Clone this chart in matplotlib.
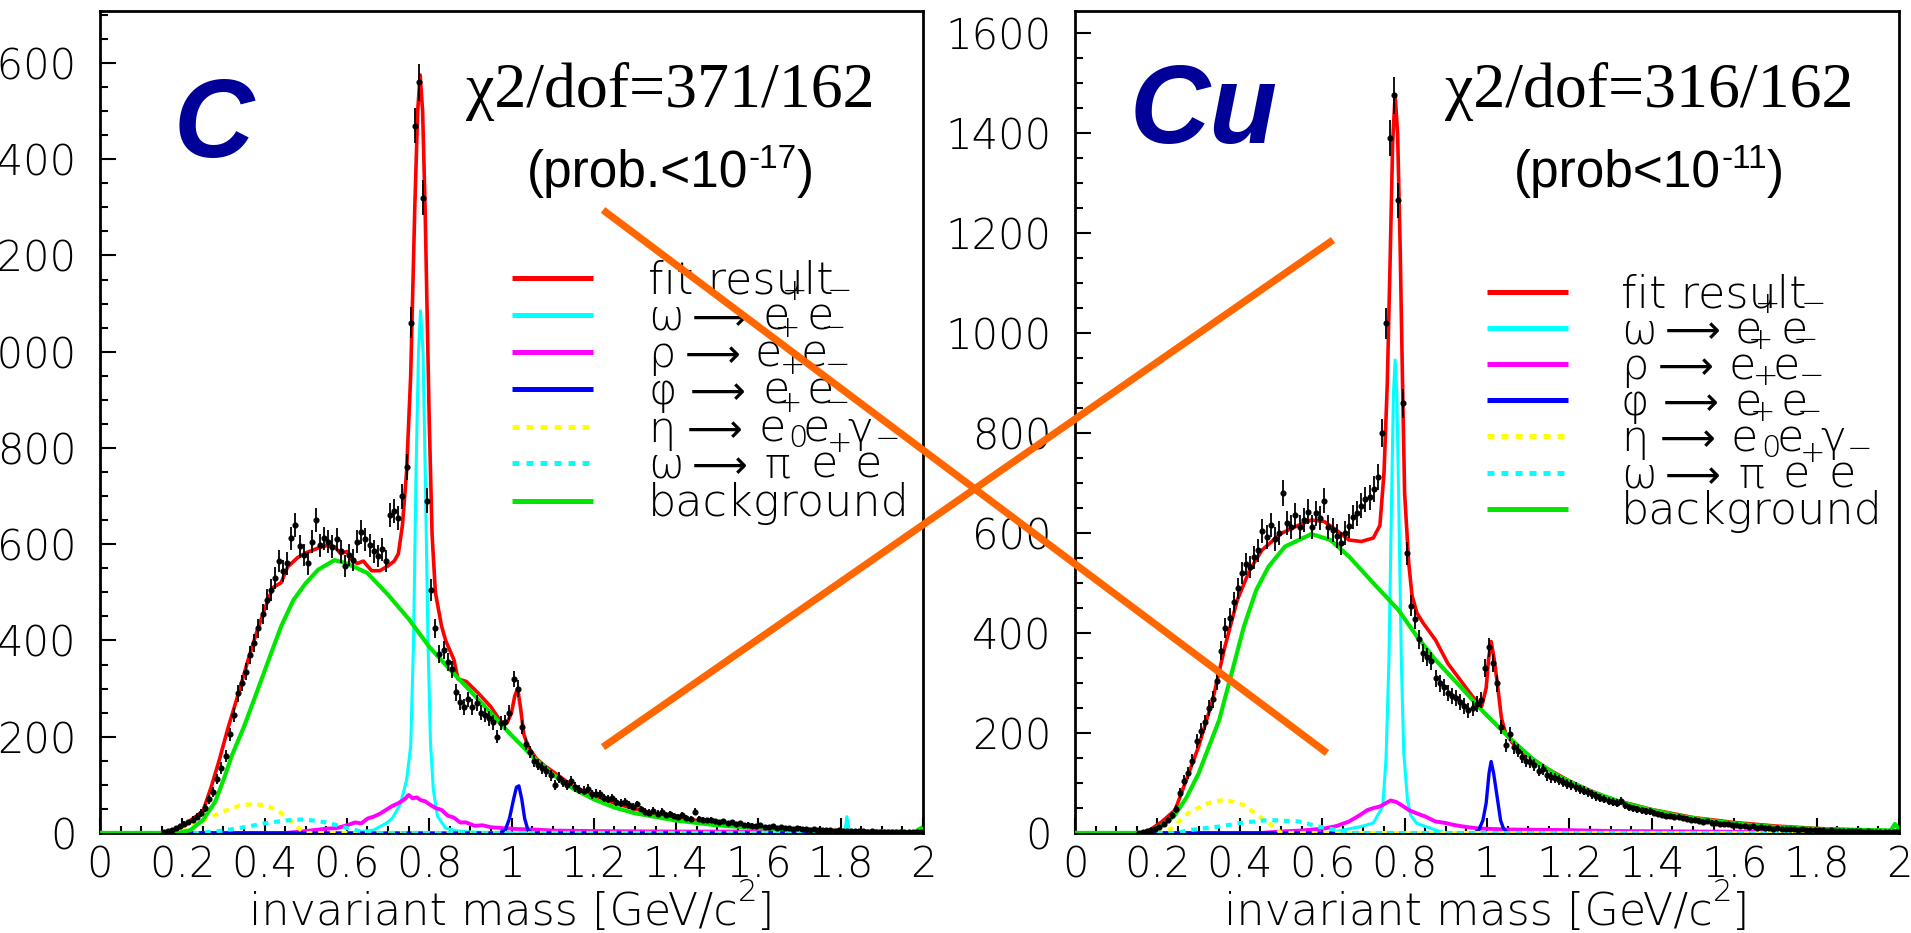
import numpy as np
import matplotlib
matplotlib.use("Agg")
import matplotlib.pyplot as plt
from matplotlib.lines import Line2D
from matplotlib.ticker import MultipleLocator, FuncFormatter

W, H, DPI = 1911, 933, 100

# ---------------------------------------------------------------- data
# e+e- invariant-mass spectra, 10 MeV bins (bin centres 0.155 ... 1.995 GeV)
bin_centres = np.round(np.arange(0.155, 2.0, 0.01), 3)

c_counts = [
    2, 4, 6, 10, 14, 18, 22, 28, 34, 42,
    52, 70, 85, 112, 135, 160, 205, 245, 290, 312,
    335, 370, 395, 425, 455, 485, 505, 530, 565, 545,
    560, 612, 640, 596, 578, 560, 605, 650, 598, 612,
    605, 595, 610, 585, 555, 578, 568, 605, 625, 610,
    598, 585, 575, 590, 565, 660, 670, 655, 700, 760,
    1060, 1470, 1560, 1320, 690, 505, 425, 372, 380, 355,
    340, 292, 272, 262, 278, 262, 270, 250, 245, 238,
    230, 200, 228, 230, 250, 320, 300, 220, 185, 168,
    150, 142, 135, 128, 120, 100, 115, 105, 100, 108,
    95, 90, 88, 92, 80, 82, 80, 72, 70, 72,
    64, 62, 65, 58, 55, 60, 50, 44, 42, 46,
    40, 44, 38, 40, 36, 34, 38, 32, 30, 44,
    30, 28, 26, 28, 24, 22, 25, 20, 22, 18,
    20, 16, 17, 15, 14, 16, 13, 12, 14, 11,
    12, 10, 11, 9, 10, 8, 9, 7, 8, 7,
    6, 7, 6, 5, 6, 5, 5, 4, 5, 4,
    4, 3, 4, 3, 3, 3, 3, 2, 3, 2,
    2, 2, 2, 2, 2,
]
c_errors = [
    3, 3, 4, 5, 5, 6, 6, 7, 7, 8,
    8, 9, 10, 11, 12, 13, 14, 15, 17, 17,
    18, 19, 19, 20, 21, 21, 22, 22, 23, 23,
    23, 24, 25, 24, 23, 23, 24, 25, 24, 24,
    24, 24, 24, 24, 23, 23, 23, 24, 25, 24,
    24, 24, 23, 24, 23, 25, 25, 25, 26, 27,
    32, 37, 38, 36, 26, 22, 20, 19, 19, 18,
    18, 17, 16, 16, 16, 16, 16, 15, 15, 15,
    15, 14, 15, 15, 15, 17, 17, 14, 13, 13,
    12, 12, 12, 11, 11, 10, 11, 10, 10, 10,
    10, 9, 9, 9, 9, 9, 9, 8, 8, 8,
    8, 8, 8, 8, 7, 7, 7, 7, 7, 7,
    7, 7, 6, 6, 6, 6, 6, 6, 6, 7,
    6, 6, 5, 6, 5, 5, 5, 5, 5, 5,
    5, 5, 5, 5, 4, 4, 4, 4, 4, 4,
    4, 4, 4, 4, 4, 4, 4, 4, 4, 4,
    3, 3, 3, 3, 3, 3, 3, 3, 3, 3,
    3, 3, 3, 3, 3, 3, 3, 3, 3, 3,
    3, 3, 3, 3, 3,
]

cu_counts = [
    1, 2, 4, 6, 8, 12, 18, 26, 36, 48,
    80, 105, 120, 145, 185, 205, 222, 250, 268, 305,
    365, 410, 430, 462, 490, 520, 538, 532, 552, 566,
    605, 592, 616, 588, 600, 680, 620, 612, 636, 612,
    626, 643, 612, 640, 630, 665, 612, 606, 594, 580,
    600, 615, 632, 640, 655, 668, 672, 688, 712, 800,
    1020, 1390, 1476, 1266, 860, 560, 455, 428, 388, 360,
    352, 345, 310, 300, 292, 280, 275, 270, 262, 255,
    246, 250, 258, 266, 330, 372, 340, 300, 212, 176,
    198, 172, 165, 152, 145, 142, 136, 125, 128, 116,
    112, 110, 106, 102, 98, 96, 92, 88, 85, 82,
    78, 74, 70, 68, 65, 62, 60, 64, 56, 52,
    50, 48, 46, 44, 44, 41, 39, 37, 35, 35,
    32, 33, 30, 29, 27, 27, 25, 23, 24, 21,
    21, 19, 18, 18, 16, 16, 15, 15, 13, 14,
    11, 12, 10, 11, 9, 10, 9, 8, 9, 8,
    7, 8, 7, 6, 7, 6, 6, 5, 6, 5,
    5, 4, 5, 4, 4, 4, 3, 4, 3, 3,
    3, 2, 3, 2, 2,
]
cu_errors = [
    2, 2, 3, 3, 4, 4, 5, 6, 7, 8,
    10, 11, 12, 13, 14, 15, 15, 16, 17, 18,
    19, 20, 20, 21, 21, 22, 22, 22, 23, 23,
    24, 24, 24, 24, 24, 26, 24, 24, 25, 24,
    24, 25, 24, 25, 24, 25, 24, 24, 24, 23,
    24, 24, 24, 25, 25, 25, 25, 26, 26, 28,
    31, 36, 37, 35, 29, 23, 21, 20, 19, 18,
    18, 18, 17, 17, 17, 16, 16, 16, 16, 16,
    15, 15, 16, 16, 18, 19, 18, 17, 14, 13,
    14, 13, 13, 12, 12, 12, 12, 11, 11, 11,
    11, 10, 10, 10, 10, 10, 10, 9, 9, 9,
    9, 9, 8, 8, 8, 8, 8, 8, 7, 7,
    7, 7, 7, 7, 7, 6, 6, 6, 6, 6,
    6, 6, 5, 5, 5, 5, 5, 5, 5, 5,
    5, 4, 4, 4, 4, 4, 4, 4, 4, 4,
    4, 4, 3, 3, 3, 3, 3, 3, 3, 3,
    3, 3, 3, 3, 3, 3, 3, 3, 3, 3,
    3, 3, 3, 3, 3, 3, 3, 3, 3, 3,
    2, 2, 2, 2, 2,
]

# ---- fitted components, carbon target
c_fit_x = [0.0, 0.17, 0.18, 0.21, 0.25, 0.27, 0.29, 0.31, 0.34, 0.36, 0.38, 0.40, 0.42,
           0.44, 0.456, 0.48, 0.50, 0.53, 0.55, 0.57, 0.585, 0.60, 0.61, 0.625, 0.64,
           0.66, 0.68, 0.70, 0.715, 0.725, 0.735, 0.745, 0.755, 0.765, 0.772, 0.778,
           0.784, 0.79, 0.80, 0.807, 0.815, 0.83, 0.84, 0.86, 0.87, 0.89, 0.92, 0.95,
           0.975, 0.99, 1.0, 1.008, 1.015, 1.022, 1.03, 1.04, 1.06, 1.08, 1.10, 1.15,
           1.20, 1.25, 1.30, 1.35, 1.40, 1.50, 1.60, 1.70, 1.80, 1.90, 2.0]
c_fit_y = [0, 0, 3, 20, 45, 95, 152, 215, 300, 360, 415, 465, 510,
           520, 553, 572, 582, 592, 597, 595, 580, 585, 570, 560, 565,
           545, 545, 555, 565, 580, 640, 750, 950, 1300, 1500, 1575,
           1500, 1300, 860, 620, 500, 430, 400, 360, 320, 315, 290, 262,
           230, 230, 250, 285, 300, 260, 205, 180, 155, 140, 128, 97,
           78, 62, 50, 40, 32, 20, 12, 8, 5, 3, 2]

c_bg_x = [0.0, 0.19, 0.22, 0.25, 0.28, 0.30, 0.32, 0.35, 0.38, 0.41, 0.44, 0.47, 0.50,
          0.53, 0.57, 0.60, 0.65, 0.70, 0.75, 0.80, 0.85, 0.90, 0.95, 1.0, 1.05, 1.10,
          1.15, 1.20, 1.25, 1.30, 1.40, 1.50, 1.60, 1.70, 1.80, 1.90, 1.98, 1.995]
c_bg_y = [0, 0, 6, 27, 65, 110, 160, 221, 290, 360, 429, 484, 519,
          547, 567, 560, 540, 495, 445, 387, 340, 295, 249, 203, 160, 122,
          92, 70, 53, 41, 26, 16, 10, 7, 4, 3, 2, 10]

c_omega_x = [0.0, 0.60, 0.665, 0.695, 0.71, 0.73, 0.745, 0.755, 0.762, 0.768, 0.774,
             0.779, 0.785, 0.791, 0.797, 0.803, 0.81, 0.82, 0.84, 0.87, 0.90, 1.0,
             1.80, 1.81, 1.815, 1.82, 1.83, 2.0]
c_omega_y = [0, 0, 6, 20, 30, 60, 110, 180, 400, 750, 1000,
             1085, 1000, 720, 400, 190, 90, 35, 10, 4, 2, 0,
             0, 0, 34, 8, 0, 0]

c_rho_x = [0.0, 0.45, 0.50, 0.55, 0.575, 0.60, 0.62, 0.635, 0.65, 0.665, 0.68, 0.695,
           0.71, 0.725, 0.74, 0.75, 0.76, 0.77, 0.78, 0.79, 0.80, 0.815, 0.83, 0.845,
           0.86, 0.875, 0.89, 0.91, 0.93, 0.95, 0.98, 1.02, 1.06, 1.10, 1.20, 1.40,
           1.60, 1.80, 2.0]
c_rho_y = [0, 0, 4, 9, 10, 16, 22, 20, 30, 34, 40, 48,
           56, 62, 70, 79, 72, 74, 68, 66, 60, 52, 48, 36,
           32, 22, 22, 15, 16, 12, 10, 8, 7, 5, 4, 3,
           3, 2, 2]

c_phi_x = [0.0, 0.97, 0.985, 0.995, 1.005, 1.012, 1.018, 1.025, 1.032, 1.04, 1.05, 2.0]
c_phi_y = [0, 0, 6, 30, 70, 95, 98, 70, 30, 6, 0, 0]

c_eta_x = [0.0, 0.19, 0.22, 0.26, 0.30, 0.34, 0.37, 0.40, 0.43, 0.46, 0.49, 0.50, 2.0]
c_eta_y = [0, 0, 12, 30, 45, 57, 60, 58, 48, 28, 5, 0, 0]

c_omdal_x = [0.0, 0.24, 0.30, 0.35, 0.40, 0.45, 0.49, 0.53, 0.56, 0.60, 0.65, 2.0]
c_omdal_y = [0, 0, 5, 12, 20, 26, 28, 25, 20, 10, 0, 0]

# ---- fitted components, copper target
cu_fit_x = [0.0, 0.17, 0.176, 0.21, 0.243, 0.27, 0.30, 0.334, 0.364, 0.394, 0.424,
            0.454, 0.50, 0.544, 0.574, 0.605, 0.634, 0.665, 0.695, 0.724, 0.74, 0.75,
            0.758, 0.765, 0.771, 0.777, 0.783, 0.789, 0.795, 0.80, 0.81, 0.818, 0.83,
            0.845, 0.875, 0.905, 0.935, 0.965, 0.987, 0.998, 1.004, 1.01, 1.017, 1.025,
            1.035, 1.045, 1.062, 1.09, 1.115, 1.15, 1.20, 1.25, 1.30, 1.40, 1.50, 1.60,
            1.70, 1.80, 1.90, 2.0]
cu_fit_y = [0, 0, 3, 22, 46, 106, 173, 266, 373, 466, 526,
            566, 599, 616, 626, 623, 606, 586, 583, 590, 615, 720,
            900, 1150, 1380, 1476, 1400, 1180, 900, 680, 540, 475, 440,
            420, 386, 339, 306, 273, 253, 290, 350, 383, 350, 300,
            230, 200, 180, 160, 146, 127, 104, 85, 68, 47, 31, 21,
            14, 9, 6, 4]

cu_bg_x = [0.0, 0.17, 0.18, 0.21, 0.24, 0.27, 0.30, 0.35, 0.38, 0.41, 0.44, 0.47, 0.51,
           0.574, 0.62, 0.665, 0.725, 0.785, 0.83, 0.875, 0.935, 0.995, 1.055, 1.115,
           1.175, 1.25, 1.325, 1.40, 1.475, 1.55, 1.626, 1.70, 1.776, 1.85, 1.927,
           1.98, 1.99, 2.0]
cu_bg_y = [0, 0, 3, 15, 33, 70, 119, 226, 319, 413, 486, 533, 573,
           598, 586, 553, 499, 446, 393, 346, 293, 239, 190, 145,
           113, 84, 62, 46, 33, 24, 17, 12, 9, 7, 6,
           5, 18, 8]

cu_omega_x = [0.0, 0.62, 0.65, 0.695, 0.724, 0.747, 0.755, 0.762, 0.768, 0.773, 0.777,
              0.781, 0.786, 0.792, 0.798, 0.807, 0.815, 0.83, 0.875, 0.90, 2.0]
cu_omega_y = [0, 0, 6, 13, 20, 53, 150, 346, 650, 880, 946,
              880, 650, 346, 160, 66, 35, 19, 6, 0, 0]

cu_rho_x = [0.0, 0.45, 0.50, 0.55, 0.605, 0.635, 0.665, 0.69, 0.71, 0.725, 0.74, 0.755,
            0.766, 0.78, 0.792, 0.81, 0.83, 0.85, 0.875, 0.90, 0.92, 0.95, 0.98, 1.05,
            1.175, 1.30, 1.50, 1.70, 2.0]
cu_rho_y = [0, 0, 3, 5, 9, 14, 23, 35, 46, 50, 53, 60,
            65, 62, 56, 46, 39, 33, 23, 20, 16, 12, 9, 7,
            6, 4, 3, 2, 2]

cu_phi_x = [0.0, 0.97, 0.98, 0.99, 0.998, 1.005, 1.01, 1.016, 1.025, 1.033, 1.04, 1.05, 2.0]
cu_phi_y = [0, 0, 6, 25, 60, 120, 143, 120, 70, 25, 9, 0, 0]

cu_eta_x = [0.0, 0.20, 0.23, 0.273, 0.32, 0.364, 0.41, 0.454, 0.49, 0.50, 2.0]
cu_eta_y = [0, 0, 6, 39, 59, 67, 56, 29, 8, 0, 0]

cu_omdal_x = [0.0, 0.25, 0.27, 0.35, 0.41, 0.47, 0.544, 0.59, 0.634, 0.66, 2.0]
cu_omdal_y = [0, 0, 5, 13, 21, 26, 23, 13, 6, 0, 0]

targets = ["C", "Cu"]
chi2_texts = ["χ2/dof=371/162", "χ2/dof=316/162"]
prob_texts = [("(prob.<10", "-17"), ("(prob<10", "-11")]

# ---------------------------------------------------------------- styling
plt.rcParams["font.family"] = ["DejaVu Sans"]
plt.rcParams["font.weight"] = 200

RED, CYAN, MAG, BLUE, YEL, GRN = "#ff0000", "#00ffff", "#ff00ff", "#0000ff", "#ffff00", "#00e600"
DOT = (0, (1.4, 1.4))

COMPONENT_STYLE = [
    dict(color=RED, lw=2.6, ls="-"),
    dict(color=CYAN, lw=2.2, ls="-"),
    dict(color=MAG, lw=2.8, ls="-"),
    dict(color=BLUE, lw=2.4, ls="-"),
    dict(color=YEL, lw=3.0, ls=DOT),
    dict(color=CYAN, lw=3.0, ls=DOT),
    dict(color=GRN, lw=3.0, ls="-"),
]


def fx(px):
    return px / W


def fy(py):
    return 1.0 - py / H


fig = plt.figure(figsize=(W / DPI, H / DPI), dpi=DPI)
fig.patch.set_facecolor("white")

ax_c = fig.add_axes([fx(100), fy(833), 823 / W, 822 / H])
ax_cu = fig.add_axes([fx(1075), fy(833), 824 / W, 822 / H])


def style_axes(ax, ymax):
    ax.set_xlim(0, 2)
    ax.set_ylim(0, ymax)
    ax.xaxis.set_major_locator(MultipleLocator(0.2))
    ax.xaxis.set_minor_locator(MultipleLocator(0.05))
    ax.yaxis.set_major_locator(MultipleLocator(200))
    ax.yaxis.set_minor_locator(MultipleLocator(50))
    ax.xaxis.set_major_formatter(FuncFormatter(lambda v, p: f"{v:g}"))
    ax.tick_params(which="both", direction="in", top=False, right=False,
                   width=1.5, labelsize=30)
    ax.tick_params(axis="y", which="major", length=11.5, pad=17)
    ax.tick_params(axis="y", which="minor", length=5.8)
    ax.tick_params(axis="x", which="major", length=11, pad=8)
    ax.tick_params(axis="x", which="minor", length=5)
    for s in ax.spines.values():
        s.set_linewidth(2.0)


def draw_panel(ax, counts, errors, comps):
    # fit components drawn over the frame line, data points on top of everything
    for (x, y), st in zip(comps, COMPONENT_STYLE):
        ax.plot(x, y, color=st["color"], lw=st["lw"], ls=st["ls"], zorder=3,
                solid_joinstyle="round")
    ax.errorbar(bin_centres, counts, yerr=errors, fmt="o", ms=3.4, color="black",
                ecolor="black", elinewidth=1.3, capsize=0, zorder=5)


draw_panel(ax_c, c_counts, c_errors,
           [(c_fit_x, c_fit_y), (c_omega_x, c_omega_y), (c_rho_x, c_rho_y),
            (c_phi_x, c_phi_y), (c_eta_x, c_eta_y), (c_omdal_x, c_omdal_y),
            (c_bg_x, c_bg_y)])
draw_panel(ax_cu, cu_counts, cu_errors,
           [(cu_fit_x, cu_fit_y), (cu_omega_x, cu_omega_y), (cu_rho_x, cu_rho_y),
            (cu_phi_x, cu_phi_y), (cu_eta_x, cu_eta_y), (cu_omdal_x, cu_omdal_y),
            (cu_bg_x, cu_bg_y)])
style_axes(ax_c, 1708)
style_axes(ax_cu, 1644)

renderer = fig.canvas.get_renderer()


def centred_run(pieces, cx, base):
    """Place text pieces side by side, centred on cx, on a common baseline."""
    texts = []
    for s, kw, rise in pieces:
        texts.append(fig.text(0, fy(base - rise), s, ha="left", va="baseline", **kw))
    widths = [t.get_window_extent(renderer).width for t in texts]
    x = cx - sum(widths) / 2
    for t, w in zip(texts, widths):
        t.set_x(fx(x))
        x += w


LIGHT = dict(family="DejaVu Sans", weight=200)
SANS = dict(family="Liberation Sans", weight="normal")

for ax, name, chi, (p_main, p_sup), cx, (tx, ty) in [
    (ax_c, targets[0], chi2_texts[0], prob_texts[0], 670, (214, 157)),
    (ax_cu, targets[1], chi2_texts[1], prob_texts[1], 1649, (1204, 143)),
]:
    fig.text(fx(tx), fy(ty), name, family="Liberation Sans", weight="bold",
             style="italic", size=80, color="#000099", ha="center", va="baseline")
    fig.text(fx(cx), fy(107), chi, family="Liberation Serif", weight="normal",
             size=46, ha="center", va="baseline")
    centred_run([(p_main, dict(size=37, **SANS), 0),
                 (p_sup, dict(size=24, **SANS), 19),
                 (")", dict(size=37, **SANS), 0)], cx, 187)
    bb = ax.get_position()
    centred_run([("invariant mass [GeV/c", dict(size=32, **LIGHT), 0),
                 ("2", dict(size=22, **LIGHT), 24),
                 ("]", dict(size=32, **LIGHT), 0)],
                (bb.x0 + bb.width / 2) * W, 925)

# ---------------------------------------------------------------- legends
# each row: list of (text, dx, rise, kind)
legend_rows = [
    [("fit result", 0, 0, "txt")],
    [("ω", 0, 0, "grk"), ("⟶", 44, 0, "arr"), ("e", 114, 0, "txt"), ("e", 159, 0, "txt"),
     ("+", 147, 30, "sup"), ("−", 192, 30, "sup")],
    [("ρ", 0, 0, "grk"), ("⟶", 37, 0, "arr"), ("e", 107, 0, "txt"), ("e", 152, 0, "txt"),
     ("+", 140, 30, "sup"), ("−", 185, 30, "sup")],
    [("φ", 0, 0, "grk"), ("⟶", 42, 0, "arr"), ("e", 114, 0, "txt"), ("e", 159, 0, "txt"),
     ("+", 145, 30, "sup"), ("−", 190, 30, "sup")],
    [("η", 0, 0, "grk"), ("⟶", 39, 0, "arr"), ("e", 110, 0, "txt"), ("e", 155, 0, "txt"),
     ("γ", 199, 0, "grk"), ("+", 142, 30, "sup"), ("−", 189, 30, "sup")],
    [("ω", 0, 0, "grk"), ("⟶", 44, 0, "arr"), ("π", 117, 0, "grk"), ("0", 150, 31, "sup"),
     ("e", 162, 0, "txt"), ("+", 192, 26, "sup"), ("e", 207, 0, "txt"),
     ("−", 239, 30, "sup")],
    [("background", 0, 0, "txt")],
]
KIND_STYLE = {
    "txt": dict(family="DejaVu Sans", weight=200, size=32, ha="left"),
    "grk": dict(family="DejaVu Sans", weight=200, size=31, ha="left"),
    "arr": dict(family="DejaVu Sans", weight="normal", size=28, ha="left"),
    "sup": dict(family="DejaVu Sans", weight=200, size=22, ha="center"),
}


def draw_legend(line_x0, line_x1, text_x0, baselines):
    for row, base, st in zip(legend_rows, baselines, COMPONENT_STYLE):
        yl = base - 15
        fig.add_artist(Line2D([fx(line_x0), fx(line_x1)], [fy(yl), fy(yl)],
                              transform=fig.transFigure, color=st["color"], lw=3.6,
                              ls=st["ls"], solid_capstyle="butt"))
        for s, dx, rise, kind in row:
            fig.text(fx(text_x0 + dx), fy(base - rise), s, va="baseline",
                     **KIND_STYLE[kind])


draw_legend(512, 593, 648, [293, 330, 367, 404, 442, 478, 516])
draw_legend(1487, 1568, 1621, [307, 343, 379, 415, 451, 488, 524])

# ---------------------------------------------------------------- crossing strokes
for (x0, y0), (x1, y1) in [((603, 210), (1327, 753)), ((603, 747), (1333, 240))]:
    fig.add_artist(Line2D([fx(x0), fx(x1)], [fy(y0), fy(y1)], transform=fig.transFigure,
                          color="#ff6600", lw=5.2, solid_capstyle="butt", zorder=20))

fig.savefig("out.png", dpi=DPI, facecolor="white")
